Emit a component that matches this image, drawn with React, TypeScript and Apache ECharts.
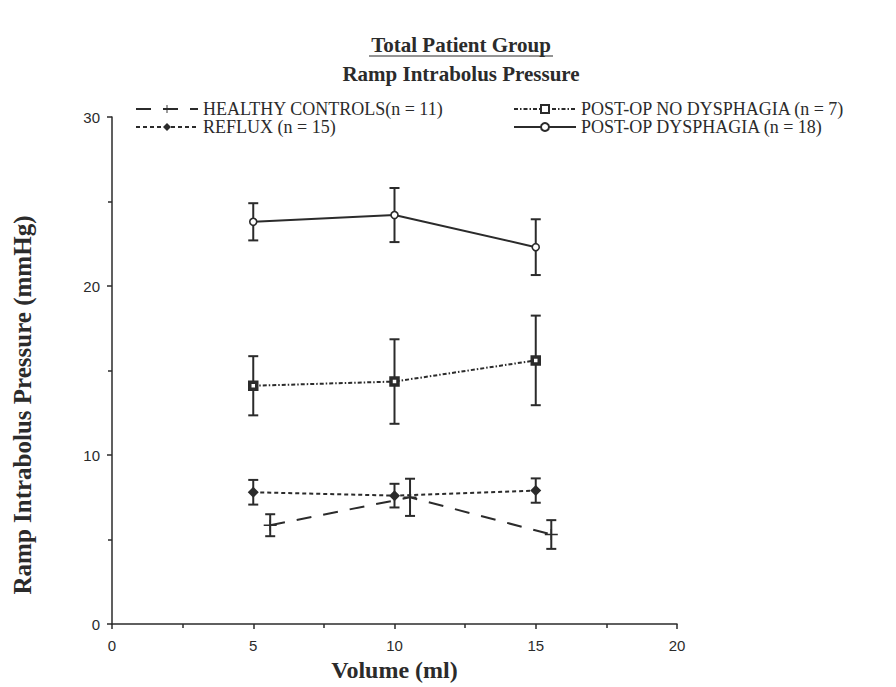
import React, { useEffect, useRef } from "react";
import * as echarts from "echarts";

const volumes = [5, 10, 15];
const healthyVolumes = [5.6, 10.55, 15.55];
const healthyMean = [5.85, 7.5, 5.3];
const healthySE = [0.65, 1.1, 0.85];
const refluxMean = [7.8, 7.6, 7.9];
const refluxSE = [0.73, 0.7, 0.72];
const noDysMean = [14.1, 14.35, 15.6];
const noDysSE = [1.75, 2.5, 2.65];
const dysMean = [23.8, 24.2, 22.3];
const dysSE = [1.1, 1.6, 1.65];

const xTicks = [0, 5, 10, 15, 20];
const yTicks = [0, 10, 20, 30];

const names = {
  healthy: "HEALTHY CONTROLS(n = 11)",
  reflux: "REFLUX (n = 15)",
  noDys: "POST-OP NO DYSPHAGIA (n = 7)",
  dys: "POST-OP DYSPHAGIA (n = 18)",
};

const INK = "#2b2b2b";
const SERIF = "'Liberation Serif', 'Times New Roman', serif";
const SANS = "'Liberation Sans', Arial, sans-serif";

function pts(xs: number[], ys: number[]) {
  return xs.map((x, i) => [x, ys[i]]);
}
function bars(xs: number[], ys: number[], se: number[]) {
  return xs.map((x, i) => [x, ys[i] - se[i], ys[i] + se[i]]);
}

const plusPath =
  "path://M0,4.3 L12,4.3 L12,5.7 L0,5.7 Z M5.3,0 L6.7,0 L6.7,10 L5.3,10 Z";

function errorSeries(name: string, data: number[][]) {
  return {
    type: "custom",
    name,
    z: 1,
    silent: true,
    encode: { x: 0, y: [1, 2] },
    data,
    renderItem: (params: any, api: any) => {
      const x = api.value(0);
      const lo = api.coord([x, api.value(1)]);
      const hi = api.coord([x, api.value(2)]);
      const hw = 5;
      const style = { stroke: INK, lineWidth: 2 };
      return {
        type: "group",
        children: [
          { type: "line", shape: { x1: lo[0], y1: lo[1], x2: hi[0], y2: hi[1] }, style },
          { type: "line", shape: { x1: lo[0] - hw, y1: lo[1], x2: lo[0] + hw, y2: lo[1] }, style },
          { type: "line", shape: { x1: hi[0] - hw, y1: hi[1], x2: hi[0] + hw, y2: hi[1] }, style },
        ],
      };
    },
  };
}

export default function App() {
  const ref = useRef<HTMLDivElement>(null);
  useEffect(() => {
    if (!ref.current) return;
    const chart = echarts.init(ref.current, null, { renderer: "svg" });
    const legendText = { fontFamily: SERIF, fontSize: 18, color: INK, lineHeight: 18 };
    const legendCommon = {
      orient: "vertical",
      top: 100,
      itemWidth: 62,
      itemHeight: 10,
      itemGap: 0,
      padding: 0,
      textStyle: legendText,
    };
    chart.setOption({
      animation: false,
      backgroundColor: "#fff",
      grid: { left: 112, right: 219, top: 117, bottom: 62, containLabel: false },
      legend: [
        { ...legendCommon, left: 135, data: [names.healthy, names.reflux] },
        { ...legendCommon, left: 513, data: [names.noDys, names.dys] },
      ],
      xAxis: {
        type: "value",
        min: 0,
        max: 20,
        interval: 5,
        axisLine: { lineStyle: { color: INK, width: 1.5 } },
        axisTick: { show: true, length: 5, lineStyle: { color: INK, width: 1.5 } },
        minorTick: { show: true, splitNumber: 2, length: 4, lineStyle: { color: INK, width: 1.5 } },
        splitLine: { show: false },
        axisLabel: {
          margin: 14,
          fontFamily: SANS,
          fontSize: 15,
          color: INK,
          formatter: (v: number) => (xTicks.includes(v) ? String(v) : ""),
        },
        name: "Volume (ml)",
        nameLocation: "middle",
        nameGap: 27,
        nameTextStyle: { fontFamily: SERIF, fontWeight: "bold", fontSize: 24, color: INK },
      },
      yAxis: {
        type: "value",
        min: 0,
        max: 30,
        interval: 10,
        axisLine: { lineStyle: { color: INK, width: 1.5 } },
        axisTick: { show: true, length: 5, lineStyle: { color: INK, width: 1.5 } },
        minorTick: { show: true, splitNumber: 2, length: 4, lineStyle: { color: INK, width: 1.5 } },
        splitLine: { show: false },
        axisLabel: {
          margin: 12,
          fontFamily: SANS,
          fontSize: 15,
          color: INK,
          formatter: (v: number) => (yTicks.includes(v) ? String(v) : ""),
        },
      },
      graphic: [
        {
          type: "text",
          x: 461,
          y: 45,
          style: {
            text: "Total Patient Group",
            font: `bold 21px ${SERIF}`,
            fill: INK,
            align: "center",
            verticalAlign: "middle",
          },
        },
        {
          type: "line",
          shape: { x1: 369, y1: 56, x2: 553, y2: 56 },
          style: { stroke: INK, lineWidth: 1.2 },
        },
        {
          type: "text",
          x: 461,
          y: 74,
          style: {
            text: "Ramp Intrabolus Pressure",
            font: `bold 21px ${SERIF}`,
            fill: INK,
            align: "center",
            verticalAlign: "middle",
          },
        },
        {
          type: "text",
          x: 22,
          y: 405,
          rotation: Math.PI / 2,
          style: {
            text: "Ramp Intrabolus Pressure (mmHg)",
            font: `bold 25px ${SERIF}`,
            fill: INK,
            align: "center",
            verticalAlign: "middle",
          },
        },
      ],
      series: [
        errorSeries("hc-err", bars(healthyVolumes, healthyMean, healthySE)),
        errorSeries("rf-err", bars(volumes, refluxMean, refluxSE)),
        errorSeries("nd-err", bars(volumes, noDysMean, noDysSE)),
        errorSeries("d-err", bars(volumes, dysMean, dysSE)),
        {
          type: "line",
          name: names.healthy,
          z: 3,
          data: pts(healthyVolumes, healthyMean),
          symbol: plusPath,
          symbolSize: [13, 11],
          itemStyle: { color: INK },
          lineStyle: { color: INK, width: 2, type: [15, 12] },
        },
        {
          type: "line",
          name: names.reflux,
          z: 3,
          data: pts(volumes, refluxMean),
          symbol: "diamond",
          symbolSize: 11,
          itemStyle: { color: INK },
          lineStyle: { color: INK, width: 2, type: [4, 3] },
        },
        {
          type: "line",
          name: names.noDys,
          z: 3,
          data: pts(volumes, noDysMean),
          symbol: "rect",
          symbolSize: 7,
          itemStyle: { color: "#fff", borderColor: INK, borderWidth: 3.5 },
          lineStyle: { color: INK, width: 2, type: [4, 2, 1.5, 2] },
        },
        {
          type: "line",
          name: names.dys,
          z: 3,
          data: pts(volumes, dysMean),
          symbol: "circle",
          symbolSize: 7,
          itemStyle: { color: "#fff", borderColor: INK, borderWidth: 1.6 },
          lineStyle: { color: INK, width: 2 },
        },
      ],
    });
    return () => chart.dispose();
  }, []);
  return (
    <div
      ref={ref}
      style={{ position: "absolute", left: 0, top: 0, width: 896, height: 687, background: "#fff" }}
    />
  );
}
